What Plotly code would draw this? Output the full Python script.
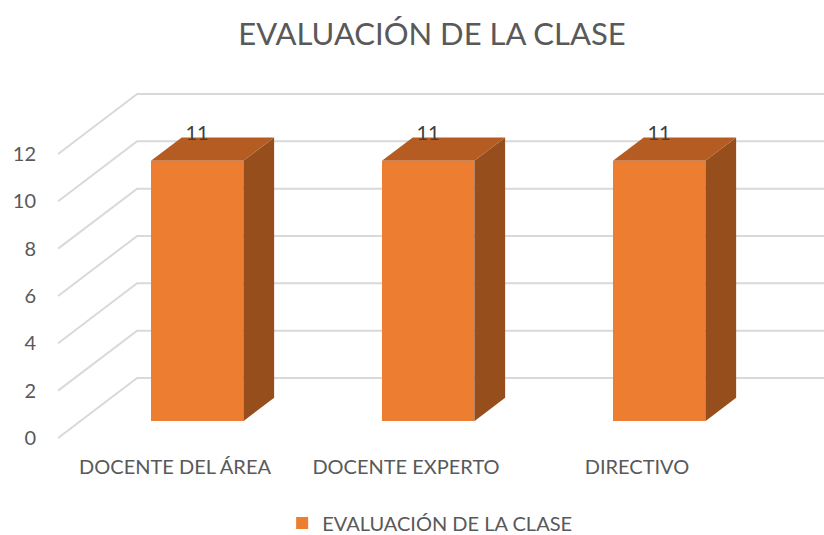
import plotly.graph_objects as go

# ---- data ----
categories = ["DOCENTE DEL ÁREA", "DOCENTE EXPERTO", "DIRECTIVO"]
values = [11, 11, 11]
series_name = "EVALUACIÓN DE LA CLASE"
chart_title = "EVALUACIÓN DE LA CLASE"
y_ticks = [0, 2, 4, 6, 8, 10, 12]

# ---- pseudo-3D projection settings (category units / value units) ----
DX = 0.342      # horizontal shift of full depth
DY = 2.535      # vertical shift of full depth
D0, D1 = 0.28, 0.67   # bar front / back depth fraction
W = 0.40        # bar width
FLOOR_LEFT = -0.506
FLOOR_RIGHT = 3.2

FRONT = "#ED7D31"
TOP = "#B45C22"
SIDE = "#974E1D"
GRID = "#D9D9D9"
TEXT = "#595959"
FONT = "Lato, 'Open Sans', sans-serif"

fig = go.Figure()

# gridlines (left diagonal + back wall) as shapes below the traces
for t in y_ticks:
    path = (f"M {FLOOR_LEFT},{t} L {FLOOR_LEFT + DX},{t + DY} "
            f"L {FLOOR_RIGHT},{t + DY}")
    fig.add_shape(type="path", path=path, xref="x", yref="y", layer="below",
                  line=dict(color=GRID, width=2))

xpos = list(range(len(categories)))

# side faces and top faces
for i, v in zip(xpos, values):
    xl0 = i + DX * D0 - W / 2
    xr0 = i + DX * D0 + W / 2
    xl1 = i + DX * D1 - W / 2
    xr1 = i + DX * D1 + W / 2
    b0 = DY * D0
    b1 = DY * D1
    fig.add_trace(go.Scatter(x=[xr0, xr0, xr1, xr1, xr0], y=[b0, b0 + v, b1 + v, b1, b0],
                             mode="lines", fill="toself", fillcolor=SIDE,
                             line=dict(width=0, color=SIDE), hoverinfo="skip", showlegend=False))
    fig.add_trace(go.Scatter(x=[xl0, xr0, xr1, xl1, xl0], y=[b0 + v, b0 + v, b1 + v, b1 + v, b0 + v],
                             mode="lines", fill="toself", fillcolor=TOP,
                             line=dict(width=0, color=TOP), hoverinfo="skip", showlegend=False))

# front faces (real bar trace)
fig.add_trace(go.Bar(x=[i + DX * D0 for i in xpos], y=values, base=DY * D0, width=W,
                     marker=dict(color=FRONT, line=dict(width=0)), name=series_name,
                     showlegend=True))

# data labels
fig.add_trace(go.Scatter(x=[i + DX * D0 for i in xpos], y=[v + DY * D1 + 0.1 for v in values],
                         mode="text", text=[str(v) for v in values], textposition="middle center",
                         textfont=dict(size=20, color="#404040", family=FONT),
                         hoverinfo="skip", showlegend=False))

L, T, B = 40, 85, 445
W_PX, H_PX = 824, 535
px_per_cat = 231.0
x0_px = 175.0
px_per_val = 23.67
y0_px = 438.0

fig.update_layout(
    width=W_PX, height=H_PX,
    margin=dict(l=L, r=0, t=T, b=H_PX - B),
    paper_bgcolor="white", plot_bgcolor="white",
    font=dict(family=FONT, color=TEXT),
    title=dict(text=chart_title, x=0.5, xref="paper", xanchor="center",
               y=1 - 34 / H_PX, yref="container", yanchor="middle",
               font=dict(size=31, color=TEXT, family=FONT)),
    xaxis=dict(range=[(L - x0_px) / px_per_cat, (W_PX - x0_px) / px_per_cat],
               tickvals=xpos, ticktext=categories, showgrid=False, zeroline=False,
               showline=False, ticks="", tickfont=dict(size=20, color=TEXT),
               ticklabelstandoff=8, fixedrange=True),
    yaxis=dict(range=[(y0_px - B) / px_per_val, (y0_px - T) / px_per_val],
               tickvals=y_ticks, showgrid=False, zeroline=False, showline=False,
               ticks="", tickfont=dict(size=20, color=TEXT), ticklabelstandoff=3,
               fixedrange=True),
    legend=dict(orientation="h", x=0.497, xanchor="center", xref="paper",
                y=1 - 523 / H_PX, yref="container", yanchor="middle",
                font=dict(size=20, color=TEXT), itemwidth=30),
    bargap=0,
)

fig.write_html("out.html", config={"displayModeBar": False},
               post_script="document.body.style.margin='0px';")
